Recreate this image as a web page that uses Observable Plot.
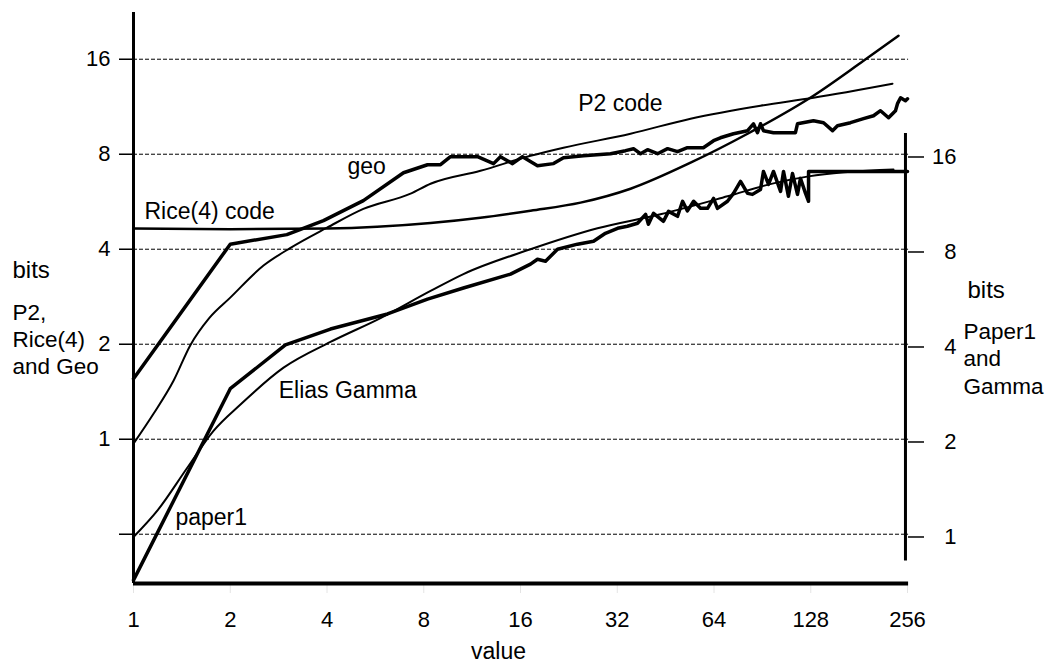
<!DOCTYPE html>
<html><head><meta charset="utf-8">
<script src="https://cdn.jsdelivr.net/npm/d3@7"></script>
<script src="https://cdn.jsdelivr.net/npm/@observablehq/plot@0.6"></script>
<style>
body{margin:0;background:#fff;}
#chart svg{font-family:"Liberation Sans",Arial,Helvetica,sans-serif;}
</style></head><body><div id="chart"></div>
<script>
// ---- tick labels ----
const xTicks = [1, 2, 4, 8, 16, 32, 64, 128, 256];
const leftTicks = [0.5, 1, 2, 4, 8, 16];      // P2, Rice(4) and Geo (bits)
const rightTicks = [1, 2, 4, 8, 16];          // Paper1 and Gamma (bits)
const rightToLeft = 0.49;                     // right-axis bits -> left-axis scale
const rightAxisRange = [0.84, 19];            // extent of the right axis line (right-axis bits)

// ---- series (value, bits) ----
const riceValue = [1, 2, 4, 8.4, 12, 17.2, 24.6, 35.2, 54.1, 81.4, 130.5, 186.8, 240];
const riceBits  = [4.65, 4.63, 4.65, 4.84, 5.03, 5.30, 5.62, 6.22, 7.52, 9.29, 12.26, 15.82, 18.99];

const p2Value = [1, 1.154, 1.332, 1.504, 1.72, 2.0, 2.538, 3.08, 4, 5.19, 7.28, 8.40, 12.01, 17.19, 21.77, 35.19, 54.1, 89.3, 130.5, 229.9];
const p2Bits  = [0.968, 1.204, 1.532, 1.99, 2.42, 2.81, 3.55, 4.04, 4.68, 5.37, 6.00, 6.45, 7.09, 7.91, 8.39, 9.29, 10.37, 11.40, 12.08, 13.38];

const geoValue = [1, 2, 3.0, 3.90, 5.19, 6.92, 8.22, 9.02, 9.69, 11.76, 13.19, 13.86, 15.11, 16.23, 18.07, 20.27, 21.77, 25.13, 30.49, 33.95,
  35.95, 37.8, 39.75, 42.7, 45.9, 49.3, 52.9, 59.3, 63.8, 67.0, 73.6, 81.4, 84.9, 87.4, 89.3, 91.2, 98.0, 114.7, 116.4, 130.5,
  140.3, 149.6, 155.0, 170.2, 186.8, 200.7, 211, 223.5, 234.9, 238.3, 243.6, 252.3, 256];
const geoBits = [1.555, 4.15, 4.45, 4.93, 5.70, 6.99, 7.41, 7.41, 7.86, 7.86, 7.47, 7.86, 7.47, 7.86, 7.36, 7.47, 7.80, 7.91, 8.03, 8.21,
  8.33, 8.03, 8.27, 8.03, 8.33, 8.15, 8.39, 8.39, 8.83, 9.02, 9.29, 9.50, 9.99, 9.36, 9.99, 9.50, 9.36, 9.36, 9.99, 10.22,
  10.07, 9.50, 9.85, 10.07, 10.37, 10.59, 10.99, 10.44, 10.99, 11.57, 12.08, 11.82, 11.99];

// right-axis series
const paper1Value = [1, 2, 2.97, 4.10, 6.17, 8.22, 10.63, 14.9, 17.19, 18.07, 19.14, 20.86, 24.07, 27.0, 29.4, 32.07, 34.4, 37.0, 39.2, 40.0,
  41.5, 44.57, 46.2, 49.3, 51.1, 52.9, 55.3, 58.1, 61.1, 63.8, 65.6, 70.5, 73.6, 77.4, 81.4, 84.3, 89.3, 91.2, 94.6, 98.0,
  103.1, 105.3, 109.1, 112.3, 116.4, 118.9, 123.3, 126, 126, 256];
const paper1Bits = [0.730, 2.95, 4.06, 4.56, 5.09, 5.67, 6.15, 6.81, 7.32, 7.59, 7.48, 8.16, 8.47, 8.65, 9.17, 9.51, 9.65, 9.87, 10.53, 9.79,
  10.61, 10.01, 10.76, 10.38, 11.58, 10.80, 11.58, 11.00, 11.00, 11.83, 11.00, 11.58, 12.27, 13.39, 12.27, 12.18, 12.63, 14.40, 13.10, 14.40,
  12.45, 14.40, 12.01, 14.19, 12.18, 13.69, 12.27, 11.58, 14.40, 14.40];

const gammaValue = [1, 1.188, 1.472, 1.774, 2.152, 2.93, 4.10, 5.87, 8.40, 10.63, 17.19, 27.78, 43.6, 70.5, 98.0, 126, 231.6];
const gammaBits  = [1, 1.214, 1.66, 2.17, 2.63, 3.44, 4.15, 4.94, 6.02, 6.81, 8.16, 9.51, 10.53, 12.01, 13.2, 13.89, 14.6];

// ---- annotations ----
const labelText  = ["P2 code", "geo", "Rice(4) code", "Elias Gamma", "paper1"];
const labelValue = [24.2, 4.63, 1.082, 2.83, 1.35];
const labelBits  = [10.99, 6.94, 5.0, 1.354, 0.536];

// ---- build rows ----
const rows = (vs, bs, k = 1) => vs.map((v, i) => ({v, b: bs[i] * k}));
const rice = rows(riceValue, riceBits);
const p2 = rows(p2Value, p2Bits);
const geo = rows(geoValue, geoBits);
const paper1 = rows(paper1Value, paper1Bits, rightToLeft);
const gamma = rows(gammaValue, gammaBits, rightToLeft);
const labels = labelText.map((t, i) => ({t, v: labelValue[i], b: labelBits[i]}));

const FONT = '"Liberation Sans",Arial,Helvetica,sans-serif';

const chart = Plot.plot({
  width: 1046, height: 664,
  marginLeft: 133, marginRight: 139, marginTop: 12, marginBottom: 81,
  style: {fontFamily: FONT, fontSize: "22px", color: "#000", background: "#fff", overflow: "visible"},
  x: {type: "log", base: 2, domain: [1, 256]},
  y: {type: "log", base: 2, domain: [0.349, 22.5]},
  marks: [
    // dashed gridlines
    Plot.ruleY(leftTicks, {x1: 1, x2: 258, stroke: "#000", strokeWidth: 1, strokeDasharray: "4,2"}),
    // faint x ticks
    Plot.axisX(xTicks, {tickSize: 10, stroke: "#e4e4e4", tickFormat: () => "", label: null}),
    // x labels
    Plot.axisX(xTicks, {tickSize: 0, tickPadding: 28, tickFormat: d => String(d), label: null, fontSize: 22}),
    // left axis
    Plot.axisY(leftTicks, {anchor: "left", tickSize: 14, tickPadding: 9, strokeWidth: 1.5,
      tickFormat: d => d === 0.5 ? "" : String(d), label: null, fontSize: 22}),
    // right axis
    Plot.axisY(rightTicks.map(r => r * rightToLeft), {anchor: "right", tickSize: 16, tickPadding: 33, strokeWidth: 1.5,
      textAnchor: "end", tickFormat: d => String(Math.round(d / rightToLeft)), label: null, fontSize: 22}),
    // axis lines
    Plot.ruleX([1], {y1: 0.349, y2: 22.5, stroke: "#000", strokeWidth: 3}),
    Plot.ruleY([0.349], {x1: 1, x2: 258, stroke: "#000", strokeWidth: 4}),
    Plot.ruleX([252.3], {y1: rightAxisRange[0] * rightToLeft, y2: rightAxisRange[1] * rightToLeft, stroke: "#000", strokeWidth: 3}),
    // series
    Plot.line(rice, {x: "v", y: "b", stroke: "#000", strokeWidth: 2.5, curve: "monotone-x"}),
    Plot.line(p2, {x: "v", y: "b", stroke: "#000", strokeWidth: 2, curve: "monotone-x"}),
    Plot.line(gamma, {x: "v", y: "b", stroke: "#000", strokeWidth: 2, curve: "monotone-x"}),
    Plot.line(geo, {x: "v", y: "b", stroke: "#000", strokeWidth: 3.5, strokeLinejoin: "round"}),
    Plot.line(paper1, {x: "v", y: "b", stroke: "#000", strokeWidth: 3.5, strokeLinejoin: "round"}),
    // annotations
    Plot.text(labels, {x: "v", y: "b", text: "t", textAnchor: "start", lineAnchor: "bottom", fontSize: 23, fill: "#000"}),
    // axis titles
    Plot.text(["bits"], {frameAnchor: "top-left", textAnchor: "start", lineAnchor: "bottom", dx: -121, dy: 265, fontSize: 24, fill: "#000"}),
    Plot.text(["P2,\nRice(4)\nand Geo"], {frameAnchor: "top-left", textAnchor: "start", lineAnchor: "bottom", lineHeight: 1.2, dx: -121, dy: 361, fontSize: 22.5, fill: "#000"}),
    Plot.text(["bits"], {frameAnchor: "top-right", textAnchor: "start", lineAnchor: "bottom", dx: 60, dy: 285, fontSize: 24, fill: "#000"}),
    Plot.text(["Paper1\nand\nGamma"], {frameAnchor: "top-right", textAnchor: "start", lineAnchor: "bottom", lineHeight: 1.22, dx: 56, dy: 381, fontSize: 22.5, fill: "#000"}),
    Plot.text(["value"], {frameAnchor: "bottom", textAnchor: "middle", lineAnchor: "bottom", dx: -22, dy: 75, fontSize: 23, fill: "#000"})
  ]
});
document.getElementById("chart").appendChild(chart);
</script></body></html>
